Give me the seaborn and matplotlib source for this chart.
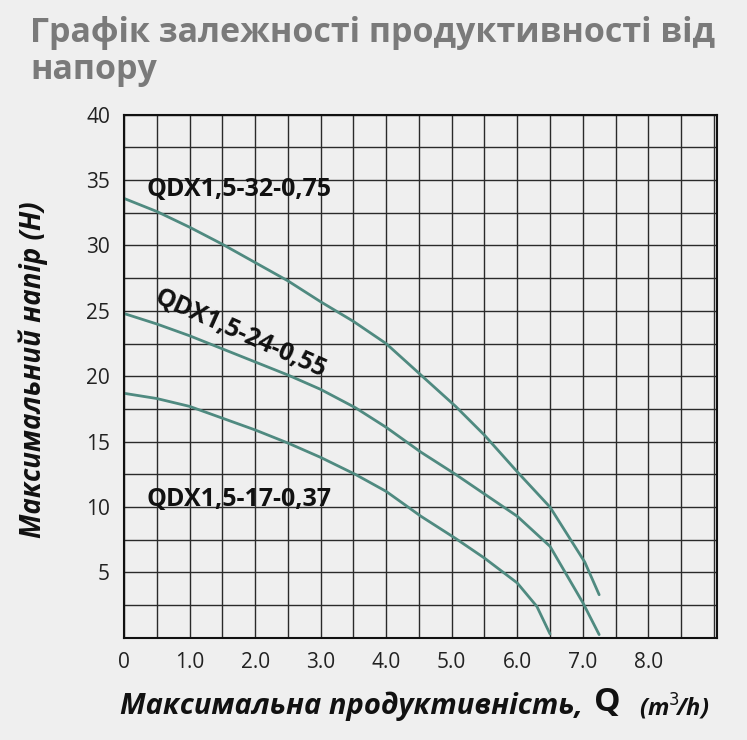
import numpy as np
import pandas as pd
import matplotlib.pyplot as plt
import seaborn as sns

# ── Дані ──────────────────────────────────────────────────────────
q_075 = [0, 0.5, 1.0, 1.5, 2.0, 2.5, 3.0, 3.5, 4.0, 4.53, 5.06, 5.5, 6.0, 6.5, 7.03, 7.25]
h_075 = [33.6, 32.6, 31.4, 30.1, 28.7, 27.3, 25.7, 24.2, 22.5, 20.1, 17.7, 15.5, 12.7, 10.0, 5.8, 3.3]
q_055 = [0, 0.5, 1.0, 1.5, 2.0, 2.5, 3.0, 3.53, 4.0, 4.53, 5.06, 5.5, 6.0, 6.5, 7.0, 7.25]
h_055 = [24.8, 24.0, 23.1, 22.1, 21.1, 20.1, 19.0, 17.6, 16.1, 14.2, 12.5, 11.0, 9.3, 7.0, 2.7, 0.25]
q_037 = [0, 0.5, 1.0, 1.5, 2.0, 2.5, 3.0, 3.53, 4.0, 4.53, 5.06, 5.5, 6.0, 6.3, 6.5]
h_037 = [18.7, 18.3, 17.7, 16.8, 15.9, 14.9, 13.8, 12.5, 11.2, 9.3, 7.6, 6.1, 4.2, 2.4, 0.3]
labels = ['QDX1,5-32-0,75', 'QDX1,5-24-0,55', 'QDX1,5-17-0,37']
x_ticks = [0, 1, 2, 3, 4, 5, 6, 7, 8]
x_tick_labels = ['0', '1.0', '2.0', '3.0', '4.0', '5.0', '6.0', '7.0', '8.0']
y_ticks = [5, 10, 15, 20, 25, 30, 35, 40]

df = pd.concat([
    pd.DataFrame({'Q': q_075, 'H': h_075, 'model': labels[0]}),
    pd.DataFrame({'Q': q_055, 'H': h_055, 'model': labels[1]}),
    pd.DataFrame({'Q': q_037, 'H': h_037, 'model': labels[2]}),
])

BG = '#efefef'
LINE = '#4f8a80'

sns.set_theme(style='white')
plt.rcParams['font.family'] = ['Open Sans', 'DejaVu Sans']

fig = plt.figure(figsize=(7.47, 7.40), dpi=100, facecolor=BG)
ax = fig.add_axes([0.166, 0.138, 0.794, 0.707])
ax.set_facecolor(BG)

sns.lineplot(data=df, x='Q', y='H', units='model', estimator=None, sort=False,
             color=LINE, linewidth=2, ax=ax, legend=False)

ax.set_xlim(0, 9.05)
ax.set_ylim(0, 40)
ax.set_xticks(np.arange(0, 9.05, 0.5), minor=True)
ax.set_yticks(np.arange(0, 40.1, 2.5), minor=True)
ax.grid(True, which='both', color='#2a2a2a', linewidth=1)
ax.set_xticks(x_ticks)
ax.set_xticklabels(x_tick_labels)
ax.set_yticks(y_ticks)
for s in ax.spines.values():
    s.set_color('#111111')
    s.set_linewidth(1.5)
ax.tick_params(which='both', length=0, labelsize=15, colors='#222222', pad=10)
ax.set_xlabel('')
ax.set_ylabel('')

ax.text(0.35, 33.8, labels[0], fontsize=18, fontweight='bold', color='#111111')
ax.text(0.4, 23.2, labels[1], fontsize=18, fontweight='bold', color='#111111',
        rotation=-24, va='center')
ax.text(0.35, 10.1, labels[2], fontsize=18, fontweight='bold', color='#111111')

fig.text(0.045, 0.5, 'Максимальний напір (Н)', rotation=90, ha='center', va='center',
         fontsize=20, fontweight='bold', style='italic', color='#111111')
fig.text(0.16, 0.045, 'Максимальна продуктивність,', fontsize=21, fontweight='bold',
         style='italic', color='#111111', va='center')
fig.text(0.795, 0.05, 'Q', fontsize=24, fontweight='bold', color='#111111', va='center')
fig.text(0.855, 0.045, '(m$^3\\!$/h)', fontsize=17, fontweight='bold', style='italic',
         color='#111111', va='center')

fig.text(0.04, 0.955, 'Графік залежності продуктивності від', fontsize=24.5,
         fontweight='bold', color='#7a7a7a', va='center')
fig.text(0.04, 0.905, 'напору', fontsize=24.5, fontweight='bold', color='#7a7a7a', va='center')

plt.savefig('out.png', dpi=100, facecolor=BG)
